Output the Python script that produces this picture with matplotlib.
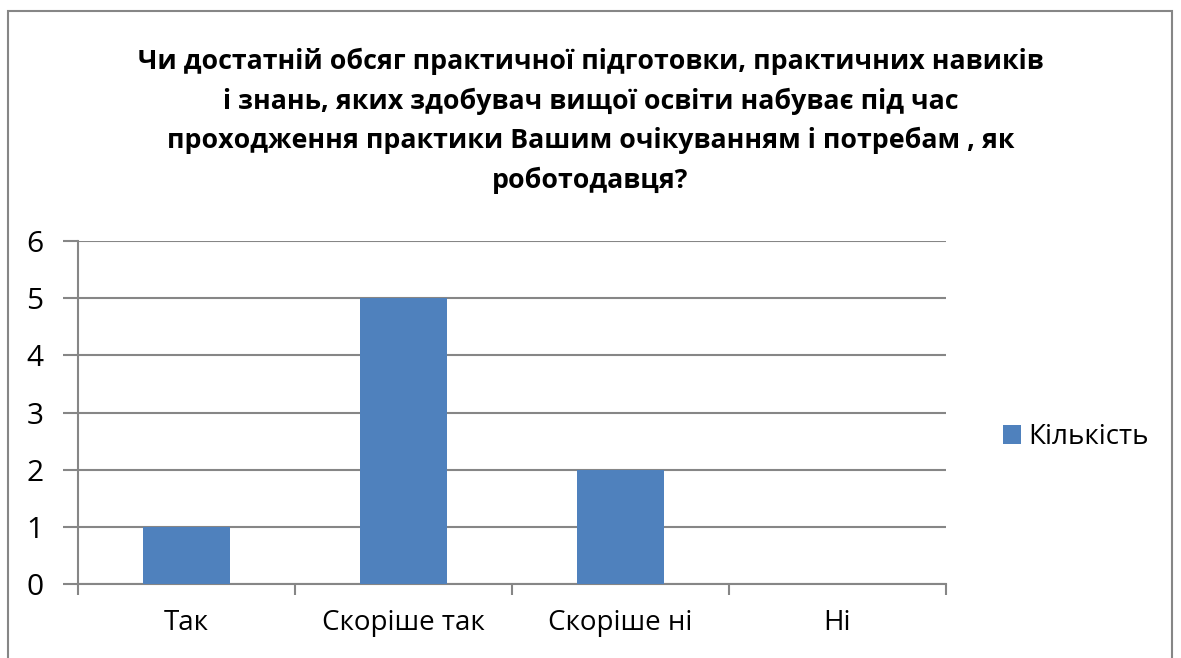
import matplotlib
matplotlib.use("Agg")
import matplotlib.pyplot as plt
from matplotlib.patches import Rectangle
import numpy as np

# chart data
categories = ["Так", "Скоріше так", "Скоріше ні", "Ні"]
counts = [1, 5, 2, 0]
series_name = "Кількість"
title = ("Чи достатній обсяг практичної підготовки, практичних навиків\n"
         "і знань, яких здобувач вищої освіти набуває під час\n"
         "проходження практики Вашим очікуванням і потребам , як\n"
         "роботодавця?")

plt.rcParams['font.family'] = ['Open Sans', 'DejaVu Sans']
grey = "#868686"

fig = plt.figure(figsize=(11.81, 6.58), dpi=100)
# outer chart border
fig.patches.append(Rectangle((8 / 1181, -0.01), 1164 / 1181, 1 - 11 / 658 + 0.01,
                             transform=fig.transFigure, fill=False,
                             edgecolor=grey, linewidth=1.5))

ax = fig.add_axes([78 / 1181, 1 - 584 / 658, 868 / 1181, 343 / 658])
x = np.arange(len(categories))
ax.bar(x, counts, width=0.4, color="#4F81BD", zorder=3, label=series_name)

ax.set_xlim(-0.5, len(categories) - 0.5)
ax.set_ylim(0, 6)
ax.set_yticks(range(0, 7))
ax.yaxis.grid(True, color=grey, linewidth=1.5, zorder=0)

# category boundaries as major ticks, labels at minor ticks
ax.set_xticks(np.arange(-0.5, len(categories), 1.0))
ax.set_xticklabels([])
ax.set_xticks(x, minor=True)
ax.set_xticklabels(categories, minor=True)
ax.tick_params(axis="x", which="major", length=8, width=1.5, color=grey, direction="out")
ax.tick_params(axis="x", which="minor", length=0, pad=18, labelsize=20)
ax.tick_params(axis="y", length=11, width=1.5, color=grey, labelsize=21.5, pad=14)

for side in ["top", "right"]:
    ax.spines[side].set_visible(False)
for side in ["left", "bottom"]:
    ax.spines[side].set_color(grey)
    ax.spines[side].set_linewidth(1.5)

fig.text(0.5, 1 - 48 / 658, title, ha="center", va="top", fontsize=19.3,
         fontweight="bold", linespacing=1.58)

leg = fig.legend(loc="center left", bbox_to_anchor=(992 / 1181, 1 - 437 / 658),
                 frameon=False, fontsize=20, handlelength=0.65, handleheight=0.65,
                 handletextpad=0.25, borderaxespad=0)

fig.savefig("out.png", dpi=100)
